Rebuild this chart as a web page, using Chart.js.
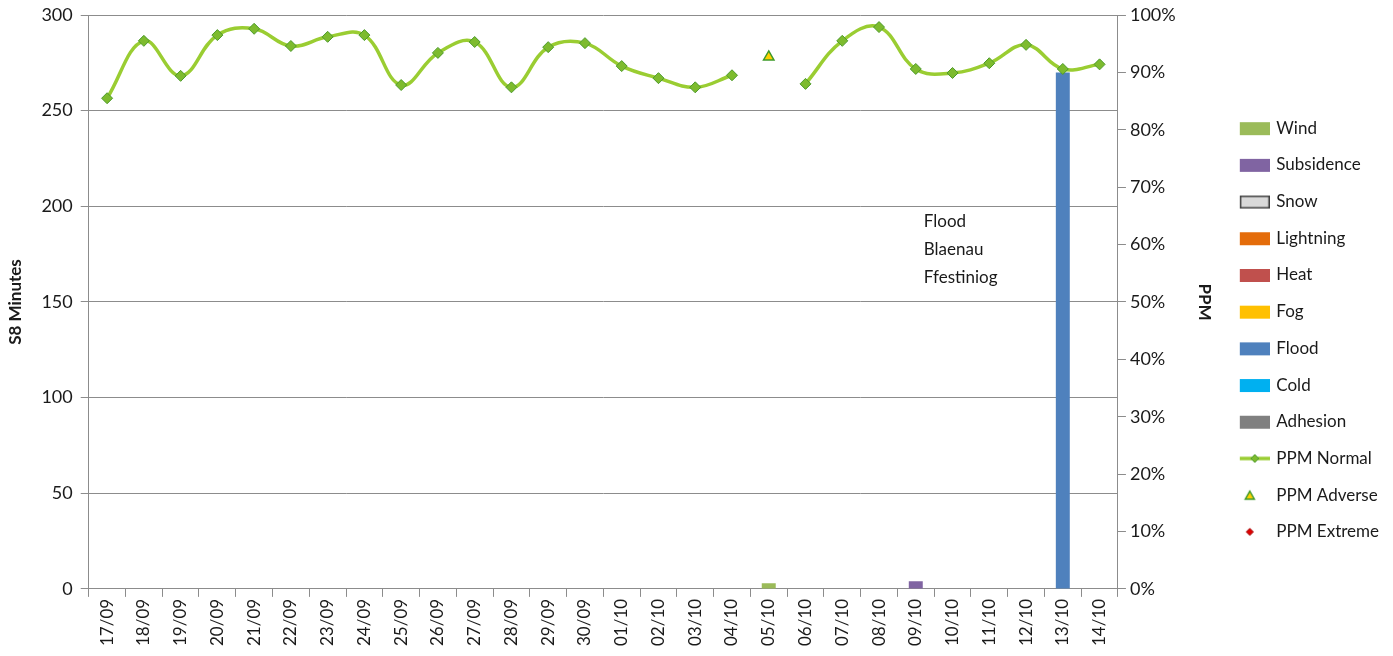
<!DOCTYPE html>
<html>
<head>
<meta charset="utf-8">
<script src="https://cdn.jsdelivr.net/npm/chart.js@4.4.1/dist/chart.umd.min.js"></script>
<style>
  body { margin: 0; background: #fff; }
  .chart-container { position: relative; width: 1393px; height: 656px; }
</style>
</head>
<body>
<div class="chart-container"><canvas id="delayChart"></canvas></div>
<script>
// Category labels (dates)
const days = ['17/09', '18/09', '19/09', '20/09', '21/09', '22/09', '23/09', '24/09', '25/09', '26/09',
    '27/09', '28/09', '29/09', '30/09', '01/10', '02/10', '03/10', '04/10', '05/10', '06/10',
    '07/10', '08/10', '09/10', '10/10', '11/10', '12/10', '13/10', '14/10'];

// S8 minutes by cause (left axis)
const windMins       = [0, 0, 0, 0, 0, 0, 0, 0, 0, 0, 0, 0, 0, 0, 0, 0, 0, 0, 3, 0, 0, 0, 0, 0, 0, 0, 0, 0];
const subsidenceMins = [0, 0, 0, 0, 0, 0, 0, 0, 0, 0, 0, 0, 0, 0, 0, 0, 0, 0, 0, 0, 0, 0, 4, 0, 0, 0, 0, 0];
const snowMins       = [0, 0, 0, 0, 0, 0, 0, 0, 0, 0, 0, 0, 0, 0, 0, 0, 0, 0, 0, 0, 0, 0, 0, 0, 0, 0, 0, 0];
const lightningMins  = [0, 0, 0, 0, 0, 0, 0, 0, 0, 0, 0, 0, 0, 0, 0, 0, 0, 0, 0, 0, 0, 0, 0, 0, 0, 0, 0, 0];
const heatMins       = [0, 0, 0, 0, 0, 0, 0, 0, 0, 0, 0, 0, 0, 0, 0, 0, 0, 0, 0, 0, 0, 0, 0, 0, 0, 0, 0, 0];
const fogMins        = [0, 0, 0, 0, 0, 0, 0, 0, 0, 0, 0, 0, 0, 0, 0, 0, 0, 0, 0, 0, 0, 0, 0, 0, 0, 0, 0, 0];
const floodMins      = [0, 0, 0, 0, 0, 0, 0, 0, 0, 0, 0, 0, 0, 0, 0, 0, 0, 0, 0, 0, 0, 0, 0, 0, 0, 0, 270, 0];
const coldMins       = [0, 0, 0, 0, 0, 0, 0, 0, 0, 0, 0, 0, 0, 0, 0, 0, 0, 0, 0, 0, 0, 0, 0, 0, 0, 0, 0, 0];
const adhesionMins   = [0, 0, 0, 0, 0, 0, 0, 0, 0, 0, 0, 0, 0, 0, 0, 0, 0, 0, 0, 0, 0, 0, 0, 0, 0, 0, 0, 0];

// PPM (right axis, %)
const ppmNormal  = [85.5, 95.5, 89.4, 96.5, 97.6, 94.6, 96.2, 96.5, 87.8, 93.4,
    95.3, 87.4, 94.4, 95.1, 91.1, 89.0, 87.4, 89.5, null, 88.0,
    95.5, 97.9, 90.6, 89.9, 91.6, 94.8, 90.6, 91.4];
const ppmAdverse = [null, null, null, null, null, null, null, null, null, null,
    null, null, null, null, null, null, null, null, 92.7, null,
    null, null, null, null, null, null, null, null];
const ppmExtreme = days.map(() => null);

// Axis ticks
const minuteTicks = [0, 50, 100, 150, 200, 250, 300];
const ppmTicks = [0, 10, 20, 30, 40, 50, 60, 70, 80, 90, 100];

const note = ['Flood', 'Blaenau', 'Ffestiniog'];
const noteDay = '09/10';

const FONT = 'Lato, "Open Sans", sans-serif';
const TEXT = '#1a1a1a';
const GRID = '#8c8c8c';

// small canvases used as legend swatches
function swatch(draw) {
    const c = document.createElement('canvas');
    c.width = 34; c.height = 16;
    draw(c.getContext('2d'));
    return c;
}
function boxSwatch(fill, stroke) {
    return swatch(ctx => {
        ctx.fillStyle = fill;
        ctx.fillRect(4, 2, 30, 13);
        if (stroke) {
            ctx.strokeStyle = stroke;
            ctx.lineWidth = 1.5;
            ctx.strokeRect(4.75, 2.75, 28.5, 11.5);
        }
    });
}
function diamond(ctx, x, y, r, fill, stroke) {
    ctx.beginPath();
    ctx.moveTo(x, y - r); ctx.lineTo(x + r, y); ctx.lineTo(x, y + r); ctx.lineTo(x - r, y);
    ctx.closePath();
    ctx.fillStyle = fill; ctx.fill();
    if (stroke) { ctx.strokeStyle = stroke; ctx.lineWidth = 1; ctx.stroke(); }
}

const barSets = [
    ['Wind', windMins, '#9BBB59'],
    ['Subsidence', subsidenceMins, '#8064A2'],
    ['Snow', snowMins, '#D9D9D9', '#404040'],
    ['Lightning', lightningMins, '#E46C0A'],
    ['Heat', heatMins, '#C0504D'],
    ['Fog', fogMins, '#FFC000'],
    ['Flood', floodMins, '#4F81BD'],
    ['Cold', coldMins, '#00B0F0'],
    ['Adhesion', adhesionMins, '#808080']
];

const datasets = barSets.map(([label, data, color, border]) => ({
    type: 'bar',
    label: label,
    data: data,
    backgroundColor: color,
    borderColor: border || color,
    borderWidth: 0,
    yAxisID: 'y',
    categoryPercentage: 1,
    barPercentage: 0.38,
    order: 2,
    legendIcon: boxSwatch(color, border)
}));

datasets.push({
    type: 'line',
    label: 'PPM Normal',
    data: ppmNormal,
    yAxisID: 'y1',
    borderColor: '#9ACD32',
    borderWidth: 3.5,
    tension: 0.4,
    spanGaps: false,
    pointStyle: 'rectRot',
    pointRadius: 5.5,
    pointBackgroundColor: '#7DBB2E',
    pointBorderColor: '#4C9A2A',
    pointBorderWidth: 1,
    order: 1,
    legendIcon: swatch(ctx => {
        ctx.strokeStyle = '#9ACD32'; ctx.lineWidth = 3.5;
        ctx.beginPath(); ctx.moveTo(4, 8); ctx.lineTo(34, 8); ctx.stroke();
        diamond(ctx, 19, 8, 4, '#7DBB2E', '#4C9A2A');
    })
});
datasets.push({
    type: 'line',
    label: 'PPM Adverse',
    data: ppmAdverse,
    yAxisID: 'y1',
    showLine: false,
    pointStyle: 'triangle',
    pointRadius: 6,
    pointBackgroundColor: '#FFD000',
    pointBorderColor: '#3E9A2A',
    pointBorderWidth: 1.5,
    order: 1,
    legendIcon: swatch(ctx => {
        ctx.beginPath();
        ctx.moveTo(14, 4); ctx.lineTo(18.5, 12); ctx.lineTo(9.5, 12); ctx.closePath();
        ctx.fillStyle = '#FFD000'; ctx.fill();
        ctx.strokeStyle = '#3E9A2A'; ctx.lineWidth = 1.5; ctx.stroke();
    })
});
datasets.push({
    type: 'line',
    label: 'PPM Extreme',
    data: ppmExtreme,
    yAxisID: 'y1',
    showLine: false,
    pointStyle: 'rectRot',
    pointRadius: 4,
    pointBackgroundColor: '#E00000',
    pointBorderColor: '#A00000',
    order: 1,
    legendIcon: swatch(ctx => diamond(ctx, 14, 8, 3.5, '#E00000', '#A00000'))
});

// Draws the free text note next to the flood bar
const notePlugin = {
    id: 'floodNote',
    afterDraw(chart) {
        const ctx = chart.ctx;
        const x = chart.scales.x.getPixelForValue(days.indexOf(noteDay)) + 8;
        const y = chart.scales.y.getPixelForValue(192);
        ctx.save();
        ctx.font = '17px ' + FONT;
        ctx.fillStyle = TEXT;
        ctx.textBaseline = 'middle';
        note.forEach((line, i) => ctx.fillText(line, x, y + i * 28));
        ctx.restore();
    }
};

const ctx = document.getElementById('delayChart').getContext('2d');
const chart = new Chart(ctx, {
    data: { labels: days, datasets: datasets },
    plugins: [notePlugin],
    options: {
        responsive: true,
        maintainAspectRatio: false,
        animation: false,
        layout: { padding: { top: 0, right: 4, bottom: 8, left: 5 } },
        plugins: {
            tooltip: { enabled: false },
            legend: {
                position: 'right',
                // empty title only nudges the legend block down a little
                title: { display: true, text: '', font: { size: 5 }, padding: { top: 3, bottom: 3 } },
                labels: {
                    usePointStyle: true,
                    pointStyleWidth: 30,
                    padding: 19.7,
                    color: TEXT,
                    font: { family: FONT, size: 17 },
                    generateLabels: (c) => c.data.datasets.map((ds, i) => ({
                        text: ds.label,
                        pointStyle: ds.legendIcon,
                        fillStyle: ds.backgroundColor,
                        strokeStyle: ds.borderColor,
                        lineWidth: 0,
                        hidden: false,
                        datasetIndex: i,
                        fontColor: TEXT
                    }))
                }
            }
        },
        scales: {
            x: {
                stacked: true,
                grid: { display: true, drawOnChartArea: false, offset: true, color: GRID, tickLength: 8 },
                border: { color: GRID },
                ticks: {
                    minRotation: 90, maxRotation: 90, autoSkip: false,
                    color: TEXT, font: { family: FONT, size: 17 }, padding: 2
                }
            },
            y: {
                stacked: true,
                min: 0, max: 300,
                afterBuildTicks: (axis) => { axis.ticks = minuteTicks.map(v => ({ value: v })); },
                grid: { color: GRID, tickLength: 8 },
                border: { color: GRID },
                ticks: { color: TEXT, font: { family: FONT, size: 18, lineHeight: 0.78 }, padding: 8 },
                title: {
                    display: true, text: 'S8 Minutes', color: TEXT,
                    font: { family: FONT, size: 17, weight: 'bold' }, padding: { top: 0, bottom: 8 }
                }
            },
            y1: {
                position: 'right',
                min: 0, max: 100,
                afterBuildTicks: (axis) => { axis.ticks = ppmTicks.map(v => ({ value: v })); },
                grid: { drawOnChartArea: false, color: GRID, tickLength: 8 },
                border: { color: GRID },
                ticks: {
                    color: TEXT, font: { family: FONT, size: 18, lineHeight: 0.78 }, padding: 4,
                    callback: (v) => v + '%'
                },
                title: {
                    display: true, text: 'PPM', color: TEXT,
                    font: { family: FONT, size: 17, weight: 'bold' }, padding: { top: 3, bottom: 15 }
                }
            }
        }
    }
});
</script>
</body>
</html>
